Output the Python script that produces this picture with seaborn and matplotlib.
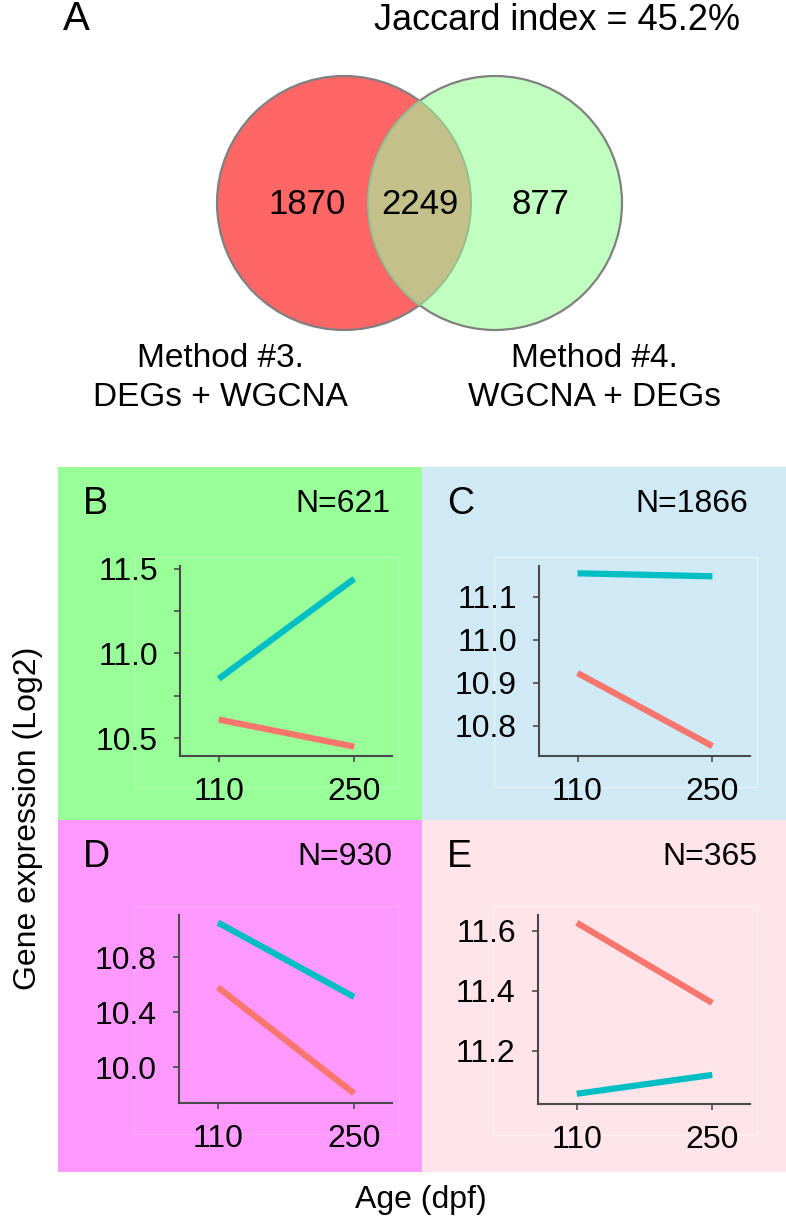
"""
Venn overlap of two gene-selection methods plus four expression-trend panels.
"""

import numpy as np
import pandas as pd
import matplotlib
matplotlib.use("Agg")
import matplotlib.pyplot as plt
from matplotlib.patches import Circle, Polygon, Rectangle
import seaborn as sns

W, H = 786, 1228

# ---- data -----------------------------------------------------------------
venn_counts = [1870, 2249, 877]          # only #3, shared, only #4
venn_labels = ["Method #3.\nDEGs + WGCNA", "Method #4.\nWGCNA + DEGs"]
jaccard_pct = 45.2

ages = [110, 250]
panel_ids = ["B", "C", "D", "E"]
panel_n = [621, 1866, 930, 365]

cyan_vals = {
    "B": [10.85, 11.44],
    "C": [11.155, 11.148],
    "D": [11.05, 10.51],
    "E": [11.057, 11.12],
}
red_vals = {
    "B": [10.61, 10.45],
    "C": [10.923, 10.753],
    "D": [10.58, 9.81],
    "E": [11.627, 11.36],
}

yticks = {
    "B": [10.5, 11.0, 11.5],
    "C": [10.8, 10.9, 11.0, 11.1],
    "D": [10.0, 10.4, 10.8],
    "E": [11.2, 11.4, 11.6],
}
ylims = {
    "B": (10.395, 11.515),
    "C": (10.73, 11.172),
    "D": (9.74, 11.105),
    "E": (11.023, 11.653),
}
xlim = (70, 289)

# ---- styling / layout (pixels) --------------------------------------------
line_palette = {"cyan": "#00BFC4", "red": "#F8766D"}
panel_bg = {"B": "#99FF99", "C": "#CFE9F5", "D": "#FF99FF", "E": "#FFE4E9"}
panel_box = {            # x0, y0, x1, y1 of coloured tile
    "B": (58, 467, 422, 820),
    "C": (422, 467, 786, 820),
    "D": (58, 820, 422, 1172),
    "E": (422, 820, 786, 1172),
}
axes_box = {             # x0, y0, x1, y1 of the inner plot area
    "B": (180, 566, 392, 756),
    "C": (539, 566, 750, 756),
    "D": (179, 915, 392, 1103),
    "E": (538, 915, 750, 1104),
}
frame_alpha = {"B": 0.2, "C": 0.5, "D": 0.15, "E": 0.5}
n_right = {"B": 390, "C": 748, "D": 392, "E": 757}

sns.set_theme(style="ticks")
plt.rcParams["font.family"] = ["Liberation Sans", "DejaVu Sans"]
plt.rcParams["text.color"] = "black"
spine_col = "#4a4a4a"

fig = plt.figure(figsize=(W / 100, H / 100), dpi=100)

# overlay axes in pixel coordinates (venn, tiles, free text)
ov = fig.add_axes([0, 0, 1, 1])
ov.set_xlim(0, W)
ov.set_ylim(H, 0)
ov.set_axis_off()
ov.set_facecolor("none")

# tiles
for pid in panel_ids:
    x0, y0, x1, y1 = panel_box[pid]
    ov.add_patch(Rectangle((x0, y0), x1 - x0, y1 - y0, facecolor=panel_bg[pid],
                           edgecolor="none", zorder=0))
    ax0, ay0, ax1, ay1 = axes_box[pid]
    ov.add_patch(Rectangle((ax0 - 45, ay0 - 9), ax1 - ax0 + 52, ay1 - ay0 + 40,
                           facecolor="none", edgecolor="white", lw=1.0,
                           alpha=frame_alpha[pid], zorder=1))

# venn
r = 127
c1 = np.array([344.0, 203.0])
c2 = np.array([495.0, 203.0])
ov.add_patch(Circle(c1, r, facecolor="#FF6666", edgecolor="#808080", lw=1.6, zorder=2))
ov.add_patch(Circle(c2, r, facecolor="#C1FFC1", edgecolor="#808080", lw=1.6, zorder=3))
d = c2[0] - c1[0]
phi = np.arccos((d / 2) / r)
t1 = np.linspace(-phi, phi, 80)
t2 = np.linspace(np.pi - phi, np.pi + phi, 80)
lens = np.vstack([
    np.column_stack([c1[0] + r * np.cos(t1), c1[1] + r * np.sin(t1)]),
    np.column_stack([c2[0] + r * np.cos(t2), c2[1] + r * np.sin(t2)]),
])
ov.add_patch(Polygon(lens, closed=True, facecolor="#C4C08A", edgecolor="#93BF8F",
                     lw=1.4, zorder=4))

count_x = [307, (c2[0] - r + c1[0] + r) / 2, 540]
for cx, cnt in zip(count_x, venn_counts):
    ov.text(cx, 204, str(cnt), ha="center", va="center", fontsize=25, zorder=5)

ov.text(63, 19, "A", ha="left", va="center", fontsize=29)
ov.text(740, 20, f"Jaccard index = {jaccard_pct}%", ha="right", va="center", fontsize=26)
for lx, lab in zip([220, 594], venn_labels):
    ov.text(lx, 378, lab, ha="center", va="center", fontsize=24, linespacing=1.3)

ov.text(28, 818, "Gene expression (Log2)", rotation=90, ha="center", va="center",
        fontsize=23)
ov.text(421, 1200, "Age (dpf)", ha="center", va="center", fontsize=23)

# ---- expression panels -----------------------------------------------------
for pid, n in zip(panel_ids, panel_n):
    x0, y0, x1, y1 = panel_box[pid]
    ov.text(x0 + 25, y0 + 37, pid, ha="left", va="center", fontsize=27, zorder=5)
    ov.text(n_right[pid], y0 + 37, f"N={n}", ha="right", va="center", fontsize=23,
            zorder=5)

    bx0, by0, bx1, by1 = axes_box[pid]
    ax = fig.add_axes([bx0 / W, 1 - by1 / H, (bx1 - bx0) / W, (by1 - by0) / H])
    ax.set_facecolor("none")

    df = pd.DataFrame({
        "age": ages + ages,
        "expr": cyan_vals[pid] + red_vals[pid],
        "series": ["cyan"] * len(ages) + ["red"] * len(ages),
    })
    sns.lineplot(data=df, x="age", y="expr", hue="series", palette=line_palette,
                 lw=4.5, legend=False, ax=ax, solid_capstyle="butt")

    ax.set_xlim(*xlim)
    ax.set_ylim(*ylims[pid])
    ax.set_xticks(ages)
    ax.set_xticklabels([str(a) for a in ages])
    ax.set_yticks(yticks[pid])
    ax.set_yticklabels([f"{v:.1f}" for v in yticks[pid]])
    if pid == "B":
        ax.set_yticks([10.75, 11.25], minor=True)
    ax.set_xlabel("")
    ax.set_ylabel("")
    for side in ["top", "right"]:
        ax.spines[side].set_visible(False)
    for side in ["left", "bottom"]:
        ax.spines[side].set_color(spine_col)
        ax.spines[side].set_linewidth(1.5)
    ax.tick_params(axis="both", which="both", direction="out", length=4, width=1.2,
                   color=spine_col, labelsize=23, labelcolor="black")
    ax.tick_params(axis="y", pad=12)
    ax.tick_params(axis="x", pad=11)

fig.savefig("out.png", dpi=100)
plt.close(fig)
